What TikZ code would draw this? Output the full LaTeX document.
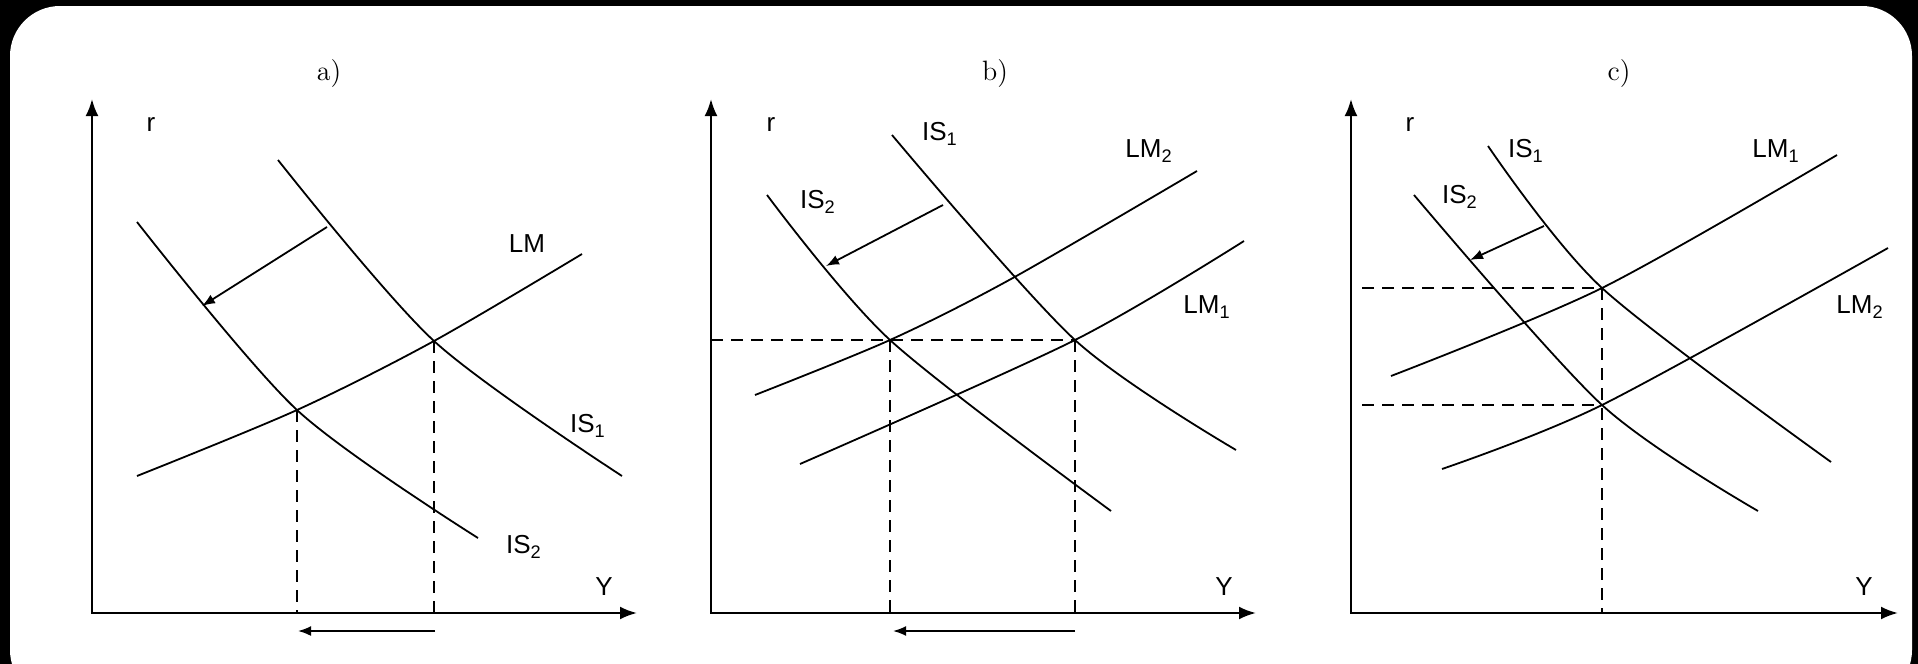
\documentclass[tikz,border=0pt]{standalone}
\usepackage{fontspec}
\setsansfont{Liberation Sans}
\usetikzlibrary{arrows.meta}
\tikzset{
  curve/.style={line width=0.9pt},
  axis/.style={line width=1.2pt, {Latex[length=8.5pt,width=6.5pt]}-{Latex[length=8.5pt,width=6.5pt]}},
  guide/.style={line width=0.9pt, dash pattern=on 6pt off 4pt},
  move/.style={line width=0.9pt, -{Latex[length=6.5pt,width=5pt]}},
  lbl/.style={font=\sffamily\fontsize{13}{13}\selectfont, inner sep=0pt},
  panel/.style={font=\fontsize{14}{14}\selectfont, inner sep=0pt}
}

\begin{document}
\begin{tikzpicture}[x=0.5pt, y=-0.5pt]
\useasboundingbox (0,0) rectangle (1918,664);
\fill[black] (0,0) rectangle (1918,664);
\begin{scope}
  \clip (0,0) rectangle (1918,664);
  \fill[white, rounded corners=25pt] (10,6) rectangle (1912,700);
\end{scope}

% panel a
\coordinate (ao) at (92,613);
\coordinate (ar) at (92,99);
\coordinate (ay) at (637,613);
\draw[axis] (ar) -- (ao) -- (ay);
\draw[curve] plot[smooth] coordinates {(278,160) (434,341) (622,476)};
\draw[curve] plot[smooth] coordinates {(137,222) (297,410) (478,538)};
\draw[curve] plot[smooth] coordinates {(137,476) (297,410) (434,341) (582,254)};
\coordinate (aE1) at (434,341);
\coordinate (aE2) at (297,410);
\coordinate (aS1) at (327,227);
\coordinate (aS2) at (202,306);
\coordinate (aB1) at (435,631);
\coordinate (aB2) at (298,631);
\draw[guide] (aE1) -- (aE1 |- ao);
\draw[guide] (aE2) -- (aE2 |- ao);
\draw[move] (aS1) -- (aS2);
\draw[move] (aB1) -- (aB2);
\node[panel] (atitle) at (329,74) {a)};
\node[lbl] (ara) at (151,125) {r};
\node[lbl] (aya) at (604,587) {Y};
\node[lbl] (aLM) at (527,244) {LM};
\node[lbl] (aIS1) at (588,426) {IS\textsubscript{1}};
\node[lbl] (aIS2) at (524,547) {IS\textsubscript{2}};

% panel b
\coordinate (bo) at (711,613);
\coordinate (br) at (711,99);
\coordinate (by) at (1256,613);
\draw[axis] (br) -- (bo) -- (by);
\draw[curve] plot[smooth] coordinates {(892,135) (1075,340) (1236,450)};
\draw[curve] plot[smooth] coordinates {(767,195) (890,340) (1111,511)};
\draw[curve] plot[smooth] coordinates {(755,395) (890,340) (1011,279) (1197,171)};
\draw[curve] plot[smooth] coordinates {(800,464) (1075,340) (1244,241)};
\coordinate (bE1) at (1075,340);
\coordinate (bE2) at (890,340);
\coordinate (bS1) at (943,205);
\coordinate (bS2) at (826,266);
\coordinate (bB1) at (1075,631);
\coordinate (bB2) at (893,631);
\draw[guide] (bo |- bE1) -- (bE1);
\draw[guide] (bE1) -- (bE1 |- bo);
\draw[guide] (bE2) -- (bE2 |- bo);
\draw[move] (bS1) -- (bS2);
\draw[move] (bB1) -- (bB2);
\node[panel] (btitle) at (995,74) {b)};
\node[lbl] (brb) at (771,125) {r};
\node[lbl] (byb) at (1224,587) {Y};
\node[lbl] (bIS1) at (940,134) {IS\textsubscript{1}};
\node[lbl] (bIS2) at (818,202) {IS\textsubscript{2}};
\node[lbl] (bLM2) at (1149,151) {LM\textsubscript{2}};
\node[lbl] (bLM1) at (1207,307) {LM\textsubscript{1}};

% panel c
\coordinate (co) at (1351,613);
\coordinate (cr) at (1351,99);
\coordinate (cy) at (1898,613);
\draw[axis] (cr) -- (co) -- (cy);
\draw[curve] plot[smooth] coordinates {(1488,146) (1602,288) (1831,462)};
\draw[curve] plot[smooth] coordinates {(1414,195) (1602,405) (1758,511)};
\draw[curve] plot[smooth] coordinates {(1391,376) (1602,288) (1837,155)};
\draw[curve] plot[smooth] coordinates {(1442,469) (1602,405) (1888,248)};
\coordinate (cE1) at (1602,288);
\coordinate (cE2) at (1602,405);
\coordinate (cS1) at (1544,226);
\coordinate (cS2) at (1470,260);
\draw[guide] (1362,288) -- (cE1);
\draw[guide] (1362,405) -- (cE2);
\draw[guide] (cE1) -- (cE1 |- co);
\draw[move] (cS1) -- (cS2);
\node[panel] (ctitle) at (1619,74) {c)};
\node[lbl] (crc) at (1410,125) {r};
\node[lbl] (cyc) at (1864,587) {Y};
\node[lbl] (cIS1) at (1526,151) {IS\textsubscript{1}};
\node[lbl] (cIS2) at (1460,197) {IS\textsubscript{2}};
\node[lbl] (cLM1) at (1776,151) {LM\textsubscript{1}};
\node[lbl] (cLM2) at (1860,307) {LM\textsubscript{2}};
\end{tikzpicture}
\end{document}
